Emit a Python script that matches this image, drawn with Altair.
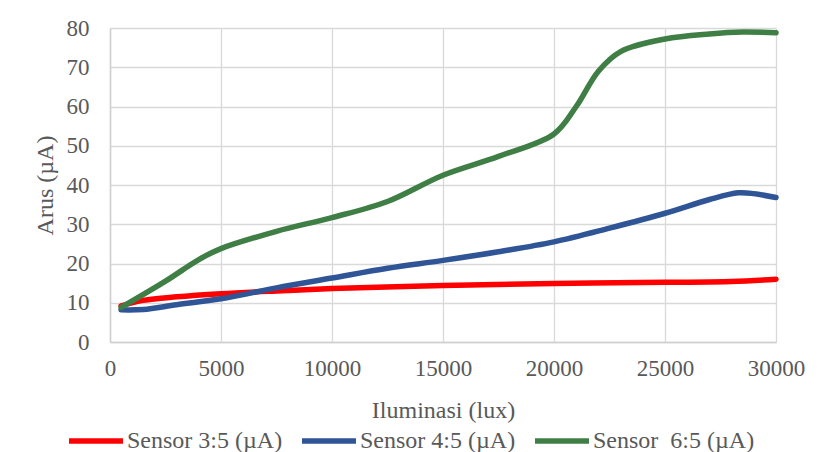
import altair as alt
import pandas as pd

# Measured current (µA) against illuminance (lux) for three sensor ratios
lux_s35 = [500, 1500, 3000, 5000, 7500, 10000, 15000, 20000, 25000, 28000, 30000]
arus_s35 = [9.2, 10.6, 11.5, 12.3, 13.0, 13.6, 14.4, 14.9, 15.2, 15.4, 16.0]

lux_s45 = [500, 1500, 3000, 5000, 7500, 10000, 12500, 15000, 17500, 20000, 22500, 25000, 27000, 28300, 29000, 30000]
arus_s45 = [8.2, 8.3, 9.5, 11.0, 13.8, 16.3, 18.8, 20.8, 23.0, 25.5, 29.0, 32.8, 36.3, 38.0, 37.8, 36.8]

lux_s65 = [500, 2500, 4000, 5000, 7500, 10000, 12500, 15000, 17500, 20000, 21000, 22000, 23000, 25000, 27000, 28500, 30000]
arus_s65 = [8.8, 15.5, 21.0, 23.8, 28.2, 31.7, 35.8, 42.5, 47.3, 53.0, 60.0, 69.0, 74.0, 77.2, 78.5, 79.0, 78.8]

series_names = ["Sensor 3:5 (µA)", "Sensor 4:5 (µA)", "Sensor \u00a06:5 (µA)"]
series_colors = ["#FF0000", "#2F5597", "#3F7F45"]

frames = []
for order, (name, xs, ys) in enumerate(zip(series_names,
                                            [lux_s35, lux_s45, lux_s65],
                                            [arus_s35, arus_s45, arus_s65])):
    frames.append(pd.DataFrame({"lux": xs, "arus": ys, "seri": name, "urut": order}))
data = pd.concat(frames, ignore_index=True)

FONT = "Liberation Serif"
GREY = "#595959"

chart = alt.Chart(data).mark_line(
    interpolate="catmull-rom", strokeWidth=5.5, strokeCap="round"
).encode(
    x=alt.X("lux:Q",
            scale=alt.Scale(domain=[0, 30000], nice=False),
            axis=alt.Axis(title="Iluminasi (lux)", values=list(range(0, 30001, 5000)),
                          format="d", titleY=75, titleBaseline="alphabetic")),
    y=alt.Y("arus:Q",
            scale=alt.Scale(domain=[0, 80], nice=False),
            axis=alt.Axis(title="Arus (µA)", values=list(range(0, 81, 10)),
                          titleX=-65, titleY=157, titleAngle=-90,
                          titleAlign="center", titleBaseline="middle")),
    color=alt.Color("seri:N",
                    scale=alt.Scale(domain=series_names, range=series_colors),
                    legend=alt.Legend(title=None, orient="none", direction="horizontal",
                                      legendX=-44, legendY=383,
                                      symbolType="stroke", symbolSize=2916,
                                      symbolStrokeWidth=5.5, labelOffset=1,
                                      columnPadding=8, labelLimit=300)),
    detail="seri:N",
    order=alt.Order("urut:Q"),
).properties(
    width=666, height=314,
    autosize=alt.AutoSizeParams(type="none"),
    padding={"left": 110, "top": 28, "right": 53, "bottom": 110},
    background="white",
).configure_view(
    stroke=None
).configure_axis(
    labelFont=FONT, titleFont=FONT,
    labelFontSize=23, titleFontSize=24,
    labelColor=GREY, titleColor=GREY,
    titleFontWeight="normal",
    labelFlush=False, labelOverlap=False,
    gridColor="#D9D9D9", gridWidth=1.3,
    domainColor="#D0D0D0", domainWidth=1.5,
    ticks=False,
).configure_axisX(
    labelPadding=15, domain=True,
).configure_axisY(
    labelPadding=21, domain=True,
).configure_legend(
    labelFont=FONT, labelFontSize=24, labelColor=GREY,
)

chart.save("out.html", embed_options={"renderer": "svg", "actions": False})
